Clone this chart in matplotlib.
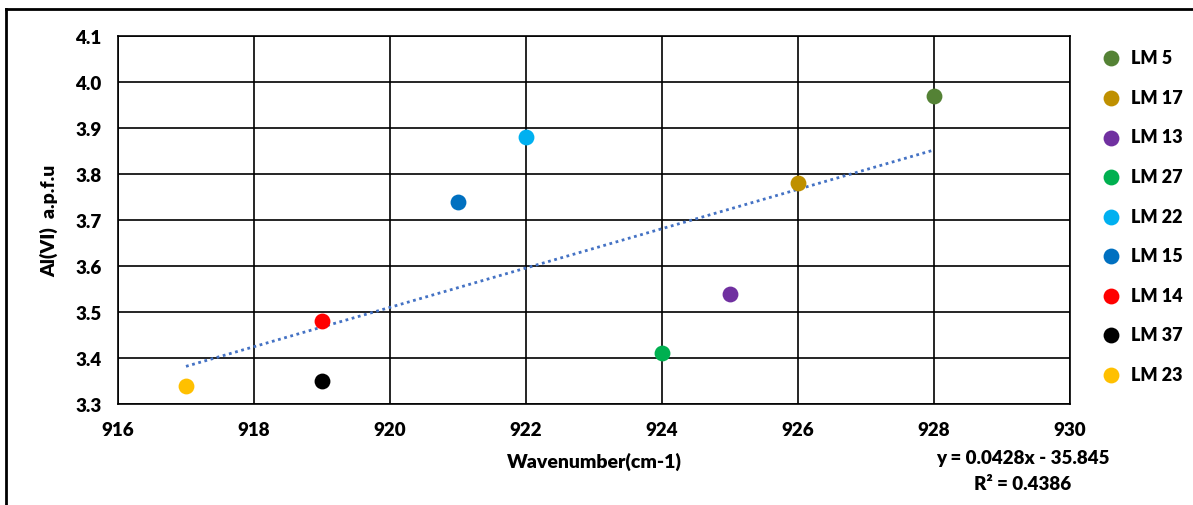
#!/usr/bin/env python3
"""Al(VI) a.p.f.u versus wavenumber, with a linear trendline."""

import matplotlib
matplotlib.use("Agg")
import matplotlib.pyplot as plt
from matplotlib.lines import Line2D
import numpy as np

plt.rcParams["font.family"] = ["Lato", "DejaVu Sans"]
plt.rcParams["font.weight"] = "heavy"

samples = ["LM 5", "LM 17", "LM 13", "LM 27", "LM 22", "LM 15", "LM 14", "LM 37", "LM 23"]
wavenumber = [928, 926, 925, 924, 922, 921, 919, 919, 917]
al_vi = [3.97, 3.78, 3.54, 3.41, 3.88, 3.74, 3.48, 3.35, 3.34]
colors = ["#548235", "#BF9000", "#7030A0", "#00B050", "#00B0F0",
          "#0070C0", "#FF0000", "#000000", "#FFC000"]

x_ticks = [916, 918, 920, 922, 924, 926, 928, 930]
y_ticks = [3.3, 3.4, 3.5, 3.6, 3.7, 3.8, 3.9, 4.0, 4.1]

fig = plt.figure(figsize=(11.93, 5.06), dpi=100)
ax = fig.add_axes([0.0989, 0.1996, 0.798, 0.727])

# frame around the figure (top and left edges only)
fig.add_artist(Line2D([0.005, 0.005], [0.0, 0.98], transform=fig.transFigure,
                      color="black", lw=2))
fig.add_artist(Line2D([0.005, 1.0], [0.98, 0.98], transform=fig.transFigure,
                      color="black", lw=2))

# trendline
x = np.array(wavenumber, dtype=float)
y = np.array(al_vi)
slope, intercept = np.polyfit(x, y, 1)
xs = np.array([x.min(), x.max()])
ax.plot(xs, slope * xs + intercept, ls=(0, (1, 1.3)), color="#4472C4", lw=2, zorder=2)

for name, xi, yi, c in zip(samples, wavenumber, al_vi, colors):
    ax.scatter(xi, yi, s=130, color=c, label=name, zorder=3, linewidths=0)

ax.set_xlim(916, 930)
ax.set_ylim(3.3, 4.1)
ax.set_xticks(x_ticks)
ax.set_yticks(y_ticks)
ax.set_yticklabels([f"{v:.1f}" for v in y_ticks])
ax.tick_params(length=0, labelsize=13.5, pad=12)
ax.tick_params(axis="x", pad=12)
ax.grid(True, color="black", lw=1.2)
ax.set_axisbelow(True)
for s in ax.spines.values():
    s.set_color("black")
    s.set_linewidth(1.2)

ax.set_xlabel("Wavenumber(cm-1)", fontsize=14, fontweight="heavy", labelpad=10)
ax.set_ylabel("Al(VI)  a.p.f.u", fontsize=14, fontweight="heavy", labelpad=12)

fig.text(0.857, 0.094, "y = 0.0428x - 35.845", ha="center", va="center",
         fontsize=13.5, fontweight="heavy")
fig.text(0.857, 0.043, "R² = 0.4386", ha="center", va="center",
         fontsize=13.5, fontweight="heavy")

ax.legend(loc="upper left", bbox_to_anchor=(0.910, 0.915), bbox_transform=fig.transFigure,
          frameon=False, fontsize=13, handletextpad=0.1, labelspacing=1.25,
          markerscale=1.0, borderaxespad=0,
          prop={"size": 13, "weight": "heavy"})

fig.savefig("out.png", dpi=100)
